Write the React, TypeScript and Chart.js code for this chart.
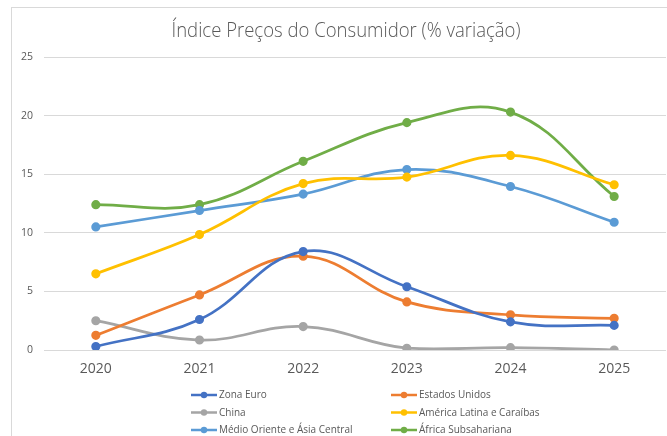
import { useEffect, useRef } from 'react';
import { Chart, registerables } from 'chart.js';
Chart.register(...registerables);

const years = ['2020', '2021', '2022', '2023', '2024', '2025'];
const yTicks = [0, 5, 10, 15, 20, 25];
const zonaEuro = [0.3, 2.6, 8.4, 5.4, 2.4, 2.1];
const estadosUnidos = [1.25, 4.7, 8.0, 4.1, 3.0, 2.7];
const china = [2.5, 0.85, 2.0, 0.15, 0.2, 0.0];
const americaLatina = [6.5, 9.85, 14.2, 14.75, 16.6, 14.1];
const medioOriente = [10.5, 11.9, 13.3, 15.4, 13.95, 10.9];
const africa = [12.4, 12.4, 16.1, 19.4, 20.3, 13.1];

const seriesNames = [
  'Zona Euro',
  'Estados Unidos',
  'China',
  'América Latina e Caraíbas',
  'Médio Oriente e Ásia Central',
  'África Subsahariana',
];
const seriesValues = [zonaEuro, estadosUnidos, china, americaLatina, medioOriente, africa];
const seriesColors = ['#4472C4', '#ED7D31', '#A5A5A5', '#FFC000', '#5B9BD5', '#70AD47'];

const TITLE = 'Índice Preços do Consumidor (% variação)';
const TEXT = '#595959';
const FONT = '"Open Sans", "Noto Sans", sans-serif';

export default function App() {
  const ref = useRef<HTMLCanvasElement>(null);

  useEffect(() => {
    const framePlugin = {
      id: 'frame',
      beforeDraw(chart: any) {
        const ctx = chart.ctx;
        ctx.save();
        ctx.fillStyle = '#ffffff';
        ctx.fillRect(0, 0, chart.width, chart.height);
        ctx.strokeStyle = '#d9d9d9';
        ctx.lineWidth = 1;
        ctx.strokeRect(11.5, 7.5, 800, 600);
        ctx.restore();
      },
    };

    const titlePlugin = {
      id: 'customTitle',
      afterDraw(chart: any) {
        const ctx = chart.ctx;
        ctx.save();
        ctx.font = `300 20px ${FONT}`;
        ctx.fillStyle = TEXT;
        ctx.textBaseline = 'alphabetic';
        ctx.textAlign = 'center';
        const w = ctx.measureText(TITLE).width;
        const target = 349;
        const sx = target / w;
        ctx.translate(346, 37);
        ctx.scale(sx, 1);
        ctx.fillText(TITLE, 0, 0);
        ctx.restore();
      },
    };

    const legendPlugin = {
      id: 'gridLegend',
      afterDraw(chart: any) {
        const ctx = chart.ctx;
        ctx.save();
        chart.data.datasets.forEach((ds: any, i: number) => {
          const col = i % 2;
          const row = Math.floor(i / 2);
          const x0 = 191 + col * 200;
          const y = 395 + row * 17.5;
          ctx.strokeStyle = ds.borderColor;
          ctx.lineWidth = 2.5;
          ctx.beginPath();
          ctx.moveTo(x0, y);
          ctx.lineTo(x0 + 26, y);
          ctx.stroke();
          ctx.fillStyle = ds.borderColor;
          ctx.beginPath();
          ctx.arc(x0 + 13, y, 3.2, 0, Math.PI * 2);
          ctx.fill();
          ctx.fillStyle = TEXT;
          ctx.font = `10px ${FONT}`;
          ctx.textBaseline = 'middle';
          ctx.textAlign = 'left';
          ctx.fillText(ds.label, x0 + 28, y + 0.5);
        });
        ctx.restore();
      },
    };

    const chart = new Chart(ref.current as HTMLCanvasElement, {
      type: 'line',
      data: {
        labels: years,
        datasets: seriesNames.map((name, i) => ({
          label: name,
          data: seriesValues[i],
          borderColor: seriesColors[i],
          backgroundColor: seriesColors[i],
          pointBackgroundColor: seriesColors[i],
          pointBorderColor: seriesColors[i],
          borderWidth: 2.75,
          pointRadius: 3.2,
          tension: 0.4,
          fill: false,
        })),
      },
      options: {
        responsive: false,
        animation: false,
        devicePixelRatio: 1,
        layout: { autoPadding: false, padding: { top: 57, bottom: 56, left: 0, right: 1 } },
        plugins: {
          legend: { display: false },
          title: { display: false },
          tooltip: { enabled: false },
        },
        scales: {
          x: {
            offset: true,
            grid: { display: false, drawTicks: false },
            border: { display: false },
            ticks: { color: TEXT, font: { family: FONT, size: 14 }, padding: 11 },
            afterFit(scale: any) {
              scale.height = 30;
            },
          },
          y: {
            min: 0,
            max: 25,
            afterBuildTicks(scale: any) {
              scale.ticks = yTicks.map((v) => ({ value: v }));
            },
            grid: { color: '#d9d9d9', lineWidth: 1, drawTicks: false },
            border: { display: false },
            ticks: { color: TEXT, font: { family: FONT, size: 10.5 }, padding: 11 },
            afterFit(scale: any) {
              scale.width = 44;
            },
          },
        },
      },
      plugins: [framePlugin, titlePlugin, legendPlugin],
    } as any);

    return () => chart.destroy();
  }, []);

  return (
    <div style={{ position: 'absolute', left: 0, top: 0, width: 667, height: 436 }}>
      <canvas ref={ref} width={667} height={436} style={{ display: 'block' }} />
    </div>
  );
}
